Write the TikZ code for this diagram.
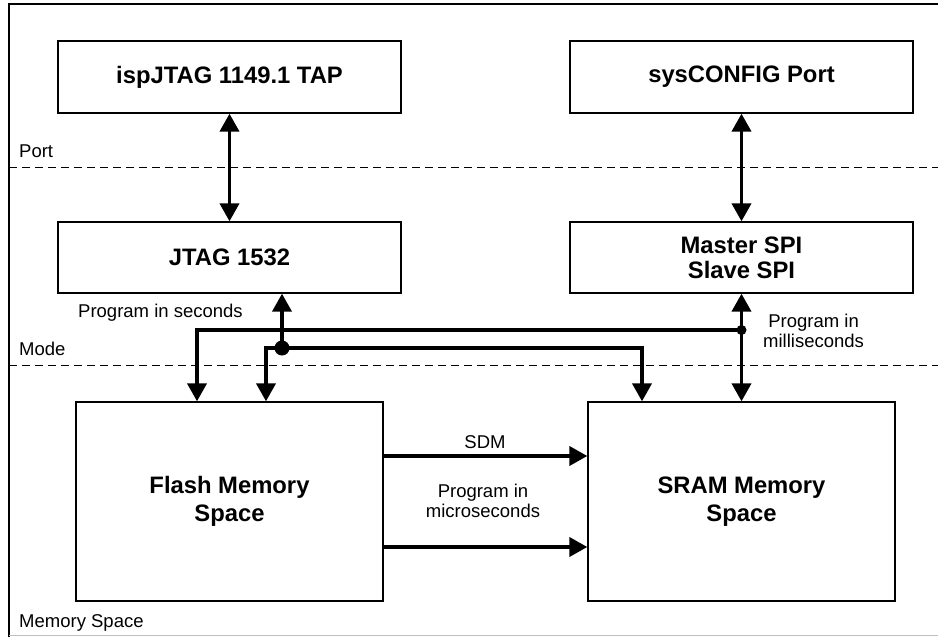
\documentclass[tikz,border=0pt]{standalone}
\usepackage{fontspec}
\setmainfont{Liberation Sans}
\usetikzlibrary{arrows.meta,calc}
\tikzset{
  blk/.style={draw=black,line width=1.3pt,minimum width=343pt,minimum height=72pt,inner sep=0pt,
    align=center,font=\fontsize{23.8}{28}\selectfont\bfseries},
  memblk/.style={blk,minimum width=307pt,minimum height=199pt},
  tip/.tip={Triangle[width=19pt,length=18pt]},
  conn/.style={line width=3.8pt,-tip},
  bconn/.style={line width=3.8pt,tip-tip},
  lbl/.style={inner sep=0pt,align=center,font=\fontsize{18.5}{20.5}\selectfont},
  sep/.style={line width=1pt,dash pattern=on 8pt off 5pt},
}
\begin{document}
\begin{tikzpicture}[x=1pt,y=-1pt]
\useasboundingbox (0,0) rectangle (938,637);
% frame
\draw[line width=1.2pt] (9,637) -- (9,4) -- (938,4);
\draw[black!25,line width=1pt] (9,635.5) -- (938,635.5);
% separators
\draw[sep] (9,167) -- (938,167);
\draw[sep] (9,365) -- (938,365);
\node[lbl,anchor=base west] (lport) at (19,157) {Port};
\node[lbl,anchor=base west] (lmode) at (19,355) {Mode};
\node[lbl,anchor=base west] (lmem) at (19,627) {Memory Space};
% boxes
\node[blk] (tap) at (229.5,77) {ispJTAG 1149.1 TAP};
\node[blk] (sysc) at (741.5,77) {sysCONFIG Port};
\node[blk,minimum height=71pt] (jtag) at (229.5,257.5) {JTAG 1532};
\node[blk,minimum height=71pt] (spi) at (741.5,257.5) {Master SPI\\[-3pt]Slave SPI};
\node[memblk] (flash) at (229.5,501.5) {Flash Memory\\Space};
\node[memblk] (sram) at (741.5,501.5) {SRAM Memory\\Space};
% vertical port connectors
\draw[bconn] (tap.south) -- (jtag.north);
\draw[bconn] (sysc.south) -- (spi.north);
\draw[bconn] (spi.south) -- (sram.north);
% junctions
\coordinate (j1) at (741.5,330);
\coordinate (j2) at (282,348);
\draw[conn] (j1) -| ([xshift=-32.5pt]flash.north);
\draw[bconn] ([xshift=36.5pt]flash.north) |- ([xshift=-99.5pt]sram.north |- j2) -- ([xshift=-99.5pt]sram.north);
\draw[conn] (j2) -- (jtag.south -| j2);
\fill (j1) circle (5pt);
\fill (j2) circle (7.5pt);
\node[lbl,anchor=base west] (lsec) at (78,317) {Program in seconds};
\node[lbl,anchor=west] (lms) at (763,331) {Program in\\milliseconds};
% memory connectors
\draw[conn] ([yshift=45.5pt]flash.east) -- ([yshift=45.5pt]sram.west);
\draw[conn] ([yshift=-45.5pt]flash.east) -- ([yshift=-45.5pt]sram.west);
\node[lbl,anchor=base] (lsdm) at (485,448) {SDM};
\node[lbl] (lus) at (483,501) {Program in\\microseconds};
\end{tikzpicture}
\end{document}
